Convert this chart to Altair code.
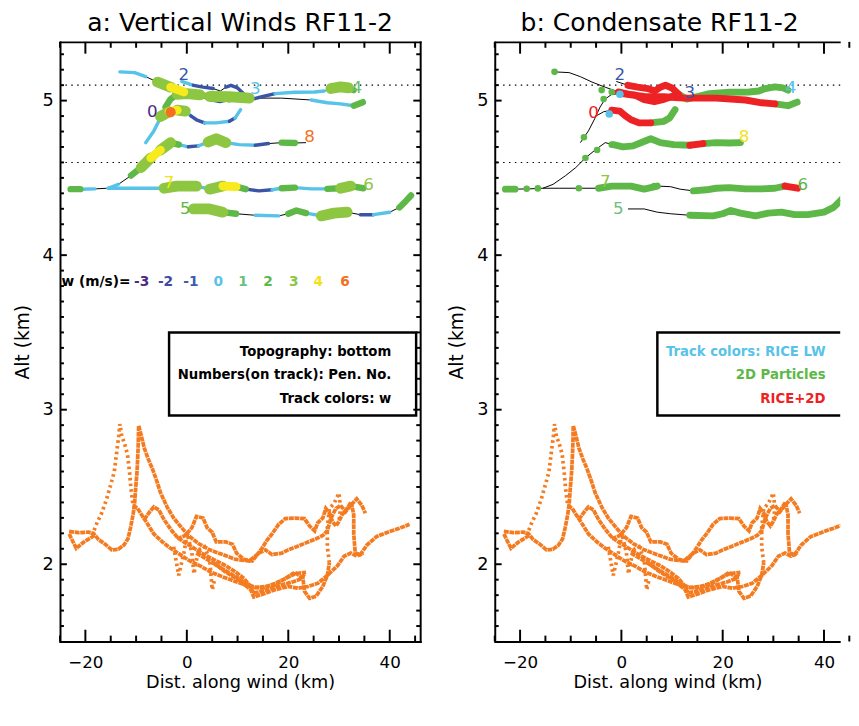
import altair as alt
import pandas as pd

FONT = "DejaVu Sans"

# ---------------- aircraft tracks: distance along wind (km), altitude (km) ----------------
# one category letter per segment: *_w = vertical-wind class (panel a), *_c = condensate class (panel b)
t1_x = [-13.2, -10.3, -8.1, -5.8, -3.2, -0.6, 1.9, 4.5, 8.4, 12.3, 18.7, 24.5, 27.7, 30.3, 32.9, 34.7]
t1_y = [5.186, 5.181, 5.155, 5.120, 5.087, 5.056, 5.037, 5.027, 5.025, 5.016, 5.016, 5.004, 4.986, 4.979, 4.967, 4.990]
t1_w = "cckGyggGGkkcccg"
t1_c = "kkkkkrrrrrrrrgg"

t2_x = [-8.1, -6.5, -5.2, -4.2, -3.2, -1.9, 0.0, 2.6, 4.5, 6.5, 8.4, 10.0, 11.6]
t2_y = [4.728, 4.804, 4.887, 4.959, 5.010, 5.041, 5.045, 5.037, 5.006, 4.994, 5.008, 5.027, 5.021]
t2_w = "cckggGGcBBgg"
t2_c = "kkkkkkrrrrrg"

t3_x = [-1.0, 1.3, 3.2, 5.2, 6.6, 7.7, 8.7, 10.0, 11.3, 12.9, 14.8, 17.4, 21.3, 25.2, 27.1, 28.4, 30.3, 31.9, 32.9]
t3_y = [5.124, 5.099, 5.087, 5.078, 5.062, 5.087, 5.099, 5.082, 5.041, 5.010, 5.025, 5.045, 5.054, 5.056, 5.062, 5.078, 5.089, 5.082, 5.068]
t3_w = "cBBkkBBBcBBccckGGg"
t3_c = "krrrrrrrgggggggggg"

t0_x = [-5.2, -3.5, -1.9, -0.3, 0.8, 1.9, 3.5, 5.8, 8.4, 9.5, 10.6]
t0_y = [4.897, 4.928, 4.938, 4.932, 4.901, 4.876, 4.856, 4.856, 4.866, 4.887, 4.942]
t0_w = "GyGcBBccBc"
t0_c = "kkrrrrrggg"

t8_x = [-22.9, -21.0, -18.1, -15.5, -13.5, -11.0, -9.0, -7.1, -5.2, -3.2, -1.6, 0.3, 2.3, 4.2, 5.8, 7.7, 10.3, 13.5, 16.1, 18.7, 21.3, 23.5]
t8_y = [4.427, 4.427, 4.429, 4.433, 4.458, 4.515, 4.567, 4.629, 4.680, 4.728, 4.715, 4.701, 4.707, 4.732, 4.753, 4.728, 4.715, 4.711, 4.722, 4.728, 4.726, 4.728]
t8_w = "gckckgGyGgcBcGGccBkgk"
t8_c = "gkkkkkkkkkgggggggrggg"

t6_x = [-15.5, -12.3, -8.4, -4.5, -1.9, 1.9, 4.5, 7.1, 9.7, 11.6, 14.2, 16.8, 18.7, 21.3, 24.5, 27.7, 30.3, 32.3, 34.8]
t6_y = [4.433, 4.433, 4.433, 4.433, 4.447, 4.447, 4.427, 4.447, 4.443, 4.427, 4.416, 4.423, 4.433, 4.437, 4.429, 4.429, 4.433, 4.447, 4.433]
t6_w = "cccGGcGygBBcgccgGg"
t6_c = "kkkggggkkkgggggggr"

t5_x = [1.3, 4.5, 7.1, 9.7, 13.5, 18.1, 20.0, 21.6, 23.5, 26.5, 29.0, 31.6, 34.2, 36.8, 40.0, 41.9, 43.2, 44.2]
t5_y = [4.299, 4.299, 4.278, 4.268, 4.258, 4.254, 4.268, 4.289, 4.272, 4.254, 4.272, 4.278, 4.262, 4.262, 4.278, 4.309, 4.351, 4.386]
t5_w = "GGgkckggcGGkBckgg"
t5_c = "kkkkggggggggggggg"

# isolated detections
w6_x = [-3.2]
w6_y = [4.925]
p2d_x = [-13.2, -3.9, -1.9, -7.4, -3.5, -18.7, -16.5, -7.1, -4.8, -1.9, -8.4, 6.5]
p2d_y = [5.186, 5.068, 5.056, 4.763, 5.010, 4.430, 4.432, 4.629, 4.680, 4.715, 4.433, 4.447]
rice_x = [-0.3, -2.4]
rice_y = [5.041, 4.913]

# penetration numbers
pen_txt = ["2", "0", "3", "4", "8", "7", "6", "5"]
pen_ax = [-0.6, -6.8, 13.5, 33.5, 24.2, -3.5, 35.8, -0.3]
pen_ay = [5.165, 4.928, 5.072, 5.082, 4.763, 4.464, 4.454, 4.299]
pen_acol = ["#3B54A5", "#4C2B84", "#57C3E8", "#6CBF6E", "#F37022", "#F2E21C", "#8DC641", "#5DB848"]
pen_bx = [-0.3, -5.5, 13.5, 33.5, 24.2, -3.2, 35.8, -0.6]
pen_by = [5.165, 4.918, 5.050, 5.082, 4.763, 4.474, 4.454, 4.299]
pen_bcol = ["#3B54A5", "#ED2224", "#3B54A5", "#57C3E8", "#F2E21C", "#8DC641", "#5DB848", "#6CBF7C"]

# reference altitudes (dotted)
ref_alt = [5.1, 4.6]

# axis tick values
x_major = [-20, 0, 20, 40]
x_minor = [-25, -15, -10, -5, 5, 10, 15, 25, 30, 35, 45]
y_major = [2, 3, 4, 5]
y_minor = [1.6, 1.7, 1.8, 1.9, 2.1, 2.2, 2.3, 2.4, 2.5, 2.6, 2.7, 2.8, 2.9, 3.1, 3.2, 3.3, 3.4, 3.5,
           3.6, 3.7, 3.8, 3.9, 4.1, 4.2, 4.3, 4.4, 4.5, 4.6, 4.7, 4.8, 4.9, 5.1, 5.2, 5.3]

# ---------------- topography under each penetration ----------------
topo_curves = {
    "A": ("solid",
          [-23.2, -21.3, -19.4, -18.4, -17.4, -16.1, -14.8, -13.5, -12.4, -11.6, -11.1, -10.6, -10.3, -10.1, -9.8, -9.6, -9.5, -9.0, -8.4, -7.6, -6.8, -5.9, -5.2, -3.9, -2.6, -1.3, 0.3, 2.3, 4.5, 7.1, 9.7, 12.3, 14.2, 15.5, 16.8, 18.7, 20.0, 21.6, 23.9, 25.5, 26.8, 27.7, 28.4, 29.4, 30.3, 31.3, 32.3, 33.5, 34.5, 35.2],
          [2.212, 2.204, 2.208, 2.200, 2.159, 2.130, 2.093, 2.097, 2.124, 2.165, 2.237, 2.320, 2.392, 2.485, 2.608, 2.753, 2.897, 2.835, 2.753, 2.680, 2.619, 2.536, 2.464, 2.371, 2.299, 2.247, 2.186, 2.134, 2.093, 2.062, 2.031, 2.021, 2.072, 2.093, 2.062, 2.072, 2.093, 2.113, 2.144, 2.165, 2.186, 2.216, 2.299, 2.361, 2.381, 2.340, 2.381, 2.423, 2.381, 2.330]),
    "B": ("dotted",
          [-18.7, -17.7, -16.8, -15.8, -15.0, -14.3, -13.8, -13.4, -13.2, -12.8, -12.3, -11.7, -11.3, -11.0, -10.6],
          [2.186, 2.268, 2.330, 2.423, 2.515, 2.598, 2.732, 2.835, 2.907, 2.825, 2.784, 2.711, 2.598, 2.485, 2.381]),
    "B2": ("solid",
           [-10.6, -9.7, -8.7, -7.7, -6.5, -4.8, -3.2, -1.3, 0.6, 2.6, 4.8, 7.1, 9.7, 12.3, 14.8, 17.4, 19.4, 21.3, 23.5],
           [2.381, 2.361, 2.309, 2.258, 2.196, 2.144, 2.103, 2.062, 2.021, 1.990, 1.948, 1.918, 1.887, 1.856, 1.845, 1.876, 1.907, 1.938, 1.948]),
    "C": ("solid",
          [-8.4, -7.4, -6.5, -5.5, -4.5, -3.2, -1.9, -0.6, 1.0, 2.9, 5.2, 7.7, 9.7, 11.3, 12.3, 13.2, 14.8, 16.8, 18.7, 21.0, 22.6, 23.2],
          [2.289, 2.336, 2.371, 2.351, 2.289, 2.227, 2.175, 2.144, 2.113, 2.072, 2.031, 1.990, 1.948, 1.907, 1.866, 1.814, 1.825, 1.845, 1.866, 1.887, 1.907, 1.938]),
    "D": ("solid",
          [-1.9, -0.3, 1.0, 1.9, 3.2, 4.0, 5.0, 5.8, 7.7, 9.0, 9.8, 11.3, 12.9, 13.9, 14.8, 15.8, 16.8, 18.1, 19.4, 21.3, 23.2, 24.2, 25.2, 25.8, 26.8, 27.4, 28.1, 28.7, 29.4, 30.0, 30.6, 31.6, 32.4, 32.9, 32.9, 33.2, 34.2, 35.5, 37.4, 40.0, 41.9, 43.9],
          [2.165, 2.186, 2.237, 2.309, 2.299, 2.237, 2.206, 2.144, 2.144, 2.130, 2.072, 2.031, 2.021, 2.062, 2.103, 2.155, 2.196, 2.258, 2.295, 2.299, 2.295, 2.247, 2.216, 2.268, 2.299, 2.361, 2.330, 2.278, 2.247, 2.278, 2.320, 2.361, 2.402, 2.320, 2.196, 2.072, 2.062, 2.124, 2.179, 2.212, 2.233, 2.258]),
    "E": ("solid",
          [1.9, 4.5, 7.1, 9.7, 11.6, 13.5, 15.5, 17.4, 19.4, 21.3, 22.9, 23.2, 24.2, 25.5, 26.8, 27.7, 28.1],
          [2.072, 2.021, 1.969, 1.918, 1.876, 1.849, 1.856, 1.866, 1.907, 1.948, 1.907, 1.825, 1.779, 1.794, 1.856, 1.928, 2.010]),
    "E2": ("dotted",
           [28.1, 27.7, 27.7, 28.1, 29.0, 30.0, 30.3, 30.0],
           [2.010, 2.113, 2.237, 2.361, 2.392, 2.460, 2.361, 2.278]),
    "F": ("solid",
          [5.2, 7.7, 10.3, 12.6, 13.2, 14.8, 17.4, 20.0, 21.9, 23.9, 25.8, 27.7, 29.7, 31.0, 32.3, 33.5, 34.8],
          [2.010, 1.948, 1.897, 1.835, 1.788, 1.804, 1.835, 1.856, 1.845, 1.856, 1.876, 1.928, 1.990, 2.052, 2.072, 2.052, 2.072]),
    "H": ("dotted",
          [-2.6, -1.6, -0.6, 0.1, 1.0, 1.4, 2.3, 3.5, 4.5, 5.0, 5.5],
          [2.113, 1.928, 2.072, 2.196, 2.072, 1.938, 2.093, 2.113, 2.031, 1.835, 1.907]),
    "I": ("solid",
          [-23.2, -21.8, -20.3, -18.2],
          [2.196, 2.103, 2.144, 2.186]),
}

# ---------------- legend / annotation text ----------------
wkey_txt = ["w (m/s)=", "-3", "-2", "-1", "0", "1", "2", "3", "4", "6"]
wkey_x = [-17.9, -8.9, -4.2, 0.8, 6.2, 11.1, 16.0, 21.1, 25.9, 31.2]
wkey_col = ["#000000", "#4C2B84", "#3B4BA0", "#3C5DAB", "#57C3E8", "#6CBF7C", "#5DB848", "#8DC641", "#F2E21C", "#F37022"]
wkey_y = 3.827

box_a_txt = ["Topography: bottom", "Numbers(on track): Pen. No.", "Track colors: w"]
box_a_col = ["#000000", "#000000", "#000000"]
box_b_txt = ["Track colors: RICE LW", "2D Particles", "RICE+2D"]
box_b_col = ["#57C3E8", "#5DB848", "#ED2224"]
box_line_y = [3.372, 3.227, 3.068]
box_text_x = 40.3

# ---------------- styles ----------------
COL_A = {"c": "#57C3E8", "B": "#3B54A5", "g": "#5DB848", "G": "#8DC641", "y": "#F7EA1D"}
WID_A = {"c": 3.5, "B": 3.5, "g": 6.5, "G": 11, "y": 9}
COL_B = {"g": "#5DB848", "r": "#ED2224", "c": "#57C3E8"}
WID_B = {"g": 7, "r": 7, "c": 6}
ORANGE = "#F47B20"
W_A, W_B, H = 367, 352, 611

tracks = {
    "t1": (t1_x, t1_y, t1_w, t1_c), "t2": (t2_x, t2_y, t2_w, t2_c),
    "t3": (t3_x, t3_y, t3_w, t3_c), "t0": (t0_x, t0_y, t0_w, t0_c),
    "t8": (t8_x, t8_y, t8_w, t8_c), "t6": (t6_x, t6_y, t6_w, t6_c),
    "t5": (t5_x, t5_y, t5_w, t5_c),
}

thin_rows = []
for name, (xs, ys, _, _) in tracks.items():
    for i, (x, y) in enumerate(zip(xs, ys)):
        thin_rows.append(dict(track=name, i=i, x=x, y=y))
thin_df = pd.DataFrame(thin_rows)


def runs(which, cols, wids):
    rows = []
    rid = 0
    for name, t in tracks.items():
        xs, ys, codes = t[0], t[1], t[which]
        n = len(codes)
        i = 0
        while i < n:
            c = codes[i]
            j = i
            while j + 1 < n and codes[j + 1] == c:
                j += 1
            if c != "k":
                for k in range(i, j + 2):
                    rows.append(dict(run=f"{name}_{rid}", i=k, x=xs[k], y=ys[k],
                                     code=c, col=cols[c], wid=wids[c]))
                rid += 1
            i = j + 1
    return pd.DataFrame(rows)


runs_a = runs(2, COL_A, WID_A)
runs_b = runs(3, COL_B, WID_B)

topo_rows = []
for cname, (style, xs, ys) in topo_curves.items():
    for i, (x, y) in enumerate(zip(xs, ys)):
        topo_rows.append(dict(curve=cname, style=style, i=i, x=x, y=y))
topo_df = pd.DataFrame(topo_rows)

ref_df = pd.DataFrame({"y": ref_alt})
lab_a = pd.DataFrame({"t": pen_txt, "x": pen_ax, "y": pen_ay, "col": pen_acol})
lab_b = pd.DataFrame({"t": pen_txt, "x": pen_bx, "y": pen_by, "col": pen_bcol})
wkey_df = pd.DataFrame({"t": wkey_txt, "x": wkey_x, "y": [wkey_y] * len(wkey_txt), "col": wkey_col})
boxa_df = pd.DataFrame({"t": box_a_txt, "x": [box_text_x] * 3, "y": box_line_y, "col": box_a_col})
boxb_df = pd.DataFrame({"t": box_b_txt, "x": [box_text_x] * 3, "y": box_line_y, "col": box_b_col})
rect_a = pd.DataFrame({"x": [-3.5], "x2": [45.2], "y": [2.963], "y2": [3.499]})
rect_b = pd.DataFrame({"x": [7.1], "x2": [55.8], "y": [2.963], "y2": [3.499]})
w6_df = pd.DataFrame({"x": w6_x, "y": w6_y})
p2d_df = pd.DataFrame({"x": p2d_x, "y": p2d_y})
rice_df = pd.DataFrame({"x": rice_x, "y": rice_y})
xmaj_df = pd.DataFrame({"x": x_major})
xmin_df = pd.DataFrame({"x": x_minor})
ymaj_df = pd.DataFrame({"y": y_major})
ymin_df = pd.DataFrame({"y": y_minor})

YDOM = [1.5, 5.38]


def xs_(xdom):
    return alt.Scale(domain=xdom, nice=False, zero=False, padding=0)


YS = alt.Scale(domain=YDOM, nice=False, zero=False, padding=0)

X_LABEL_AXIS = alt.Axis(orient="bottom", values=x_major, format="d", domain=False, ticks=False,
                        grid=False, labelFont=FONT, labelFontSize=17, labelColor="black",
                        labelPadding=13, labelFlush=False, labelOverlap=False,
                        title="Dist. along wind (km)", titleFont=FONT, titleFontSize=18,
                        titleFontWeight="normal", titleColor="black", titlePadding=4)
Y_LABEL_AXIS = alt.Axis(orient="left", values=y_major, format="d", domain=False, ticks=False,
                        grid=False, labelFont=FONT, labelFontSize=18, labelColor="black",
                        labelPadding=7, labelFlush=False, labelOverlap=False,
                        title="Alt (km)", titleFont=FONT, titleFontSize=19,
                        titleFontWeight="normal", titleColor="black", titlePadding=10)


def frame(orient, cap="square"):
    return alt.Axis(orient=orient, domain=True, domainColor="black", domainWidth=2,
                    domainCap=cap, ticks=False, labels=False, title=None, grid=False)


def tick_layers(xdom, width, right_side):
    """Inward IDL-style tick marks along the frame."""
    out = []
    for df, length in ((xmaj_df, 12), (xmin_df, 6)):
        for y0, y1 in ((H - length, H), (0, length)):
            out.append(alt.Chart(df).mark_rule(color="black", strokeWidth=2).encode(
                x=alt.X("x:Q", scale=xs_(xdom), axis=None), y=alt.value(y0), y2=alt.value(y1)))
    for df, length in ((ymaj_df, 7), (ymin_df, 4)):
        sides = [(0, length)] + ([(width - length, width)] if right_side else [])
        for x0, x1 in sides:
            out.append(alt.Chart(df).mark_rule(color="black", strokeWidth=2).encode(
                y=alt.Y("y:Q", scale=YS, axis=None), x=alt.value(x0), x2=alt.value(x1)))
    return out


def enc_xy(xdom, xa, ya):
    return dict(x=alt.X("x:Q", scale=xs_(xdom), axis=xa), y=alt.Y("y:Q", scale=YS, axis=ya))


def topo_layer(xdom, xa, ya):
    return alt.Chart(topo_df).mark_line(color=ORANGE, strokeWidth=3.8, strokeCap="butt", clip=True).encode(
        detail="curve:N", order="i:Q",
        strokeDash=alt.StrokeDash("style:N", scale=alt.Scale(domain=["solid", "dotted"], range=[[5, 0.7], [2.6, 3.2]]), legend=None),
        **enc_xy(xdom, xa, ya))


def thin_layer(xdom, xa, ya):
    return alt.Chart(thin_df).mark_line(color="black", strokeWidth=1, clip=True).encode(
        detail="track:N", order="i:Q", **enc_xy(xdom, xa, ya))


def run_layer(df, codes, xdom, xa, ya):
    d = df[df["code"].isin(codes)]
    return alt.Chart(d).mark_line(strokeCap="round", strokeJoin="round", clip=True).encode(
        detail="run:N", order="i:Q",
        color=alt.Color("col:N", scale=None), size=alt.Size("wid:Q", scale=None),
        **enc_xy(xdom, xa, ya))


def text_layer(df, xdom, xa, ya, size, weight, align):
    return alt.Chart(df).mark_text(font=FONT, fontSize=size, fontWeight=weight, align=align,
                                   baseline="middle", clip=True).encode(
        text="t:N", color=alt.Color("col:N", scale=None), **enc_xy(xdom, xa, ya))


def ref_layer():
    return alt.Chart(ref_df).mark_rule(color="black", strokeWidth=1.1, strokeDash=[1.5, 4.5]).encode(
        y=alt.Y("y:Q", scale=YS, axis=None))


def rect_layer(df, xdom):
    return alt.Chart(df).mark_rect(fill="white", stroke="black", strokeWidth=2.5, clip=True).encode(
        x=alt.X("x:Q", scale=xs_(xdom), axis=None), x2="x2",
        y=alt.Y("y:Q", scale=YS, axis=None), y2="y2")


def dot_layer(df, color, size, xdom, xa, ya):
    return alt.Chart(df).mark_circle(color=color, size=size, opacity=1, clip=True).encode(**enc_xy(xdom, xa, ya))


XA = [-25, 46]
XB = [-25, 43.2]
TITLE_SIZE = 25.5

panel_a = alt.layer(
    topo_layer(XA, X_LABEL_AXIS, Y_LABEL_AXIS),
    ref_layer(),
    thin_layer(XA, frame("bottom"), frame("left")),
    run_layer(runs_a, ["c", "B"], XA, frame("top"), frame("right")),
    run_layer(runs_a, ["g"], XA, None, None),
    run_layer(runs_a, ["G"], XA, None, None),
    run_layer(runs_a, ["y"], XA, None, None),
    dot_layer(w6_df, "#F37022", 110, XA, None, None),
    text_layer(lab_a, XA, None, None, 17, "normal", "center"),
    text_layer(wkey_df, XA, None, None, 14, "bold", "center"),
    rect_layer(rect_a, XA),
    text_layer(boxa_df, XA, None, None, 13.5, "bold", "right"),
    *tick_layers(XA, W_A, True),
).resolve_axis(x="independent", y="independent").properties(
    width=W_A, height=H,
    title=alt.TitleParams("a: Vertical Winds RF11-2", font=FONT, fontSize=TITLE_SIZE, fontWeight="normal",
                          color="black", offset=5, anchor="middle"))

panel_b = alt.layer(
    topo_layer(XB, X_LABEL_AXIS, Y_LABEL_AXIS),
    ref_layer(),
    thin_layer(XB, frame("bottom", "butt"), frame("left")),
    run_layer(runs_b, ["g"], XB, frame("top", "butt"), None),
    run_layer(runs_b, ["r"], XB, None, None),
    dot_layer(p2d_df, "#5DB848", 45, XB, None, None),
    dot_layer(rice_df, "#57C3E8", 60, XB, None, None),
    text_layer(lab_b, XB, None, None, 17, "normal", "center"),
    rect_layer(rect_b, XB),
    text_layer(boxb_df, XB, None, None, 13.5, "bold", "right"),
    *tick_layers(XB, W_B, False),
).resolve_axis(x="independent", y="independent").properties(
    width=W_B, height=H,
    title=alt.TitleParams("b: Condensate RF11-2", font=FONT, fontSize=TITLE_SIZE, fontWeight="normal",
                          color="black", offset=5, anchor="middle", dx=-8))

chart = alt.hconcat(panel_a, panel_b, spacing=27).properties(
    padding={"left": 5, "top": -4, "right": 0, "bottom": -2}, background="white"
).configure_view(stroke=None)

chart.save("out.html", embed_options={"renderer": "svg", "actions": False})
